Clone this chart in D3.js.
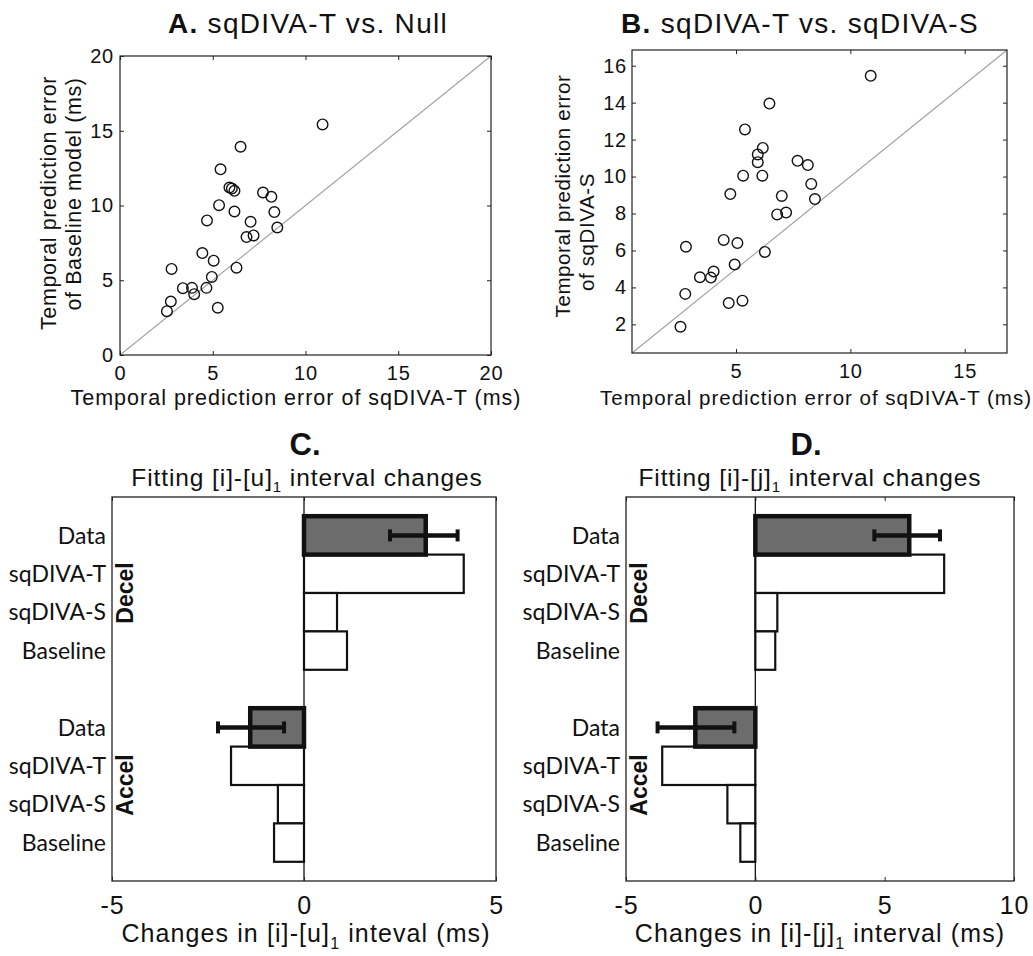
<!DOCTYPE html>
<html><head><meta charset="utf-8">
<script src="https://cdn.jsdelivr.net/npm/d3@7"></script>
<style>
body{margin:0;background:#fff}
svg text{font-family:"Liberation Sans",Arial,Helvetica,sans-serif;fill:#111}
.cat{font-family:Lato,"Open Sans",sans-serif}
</style>
</head><body>
<svg id="chart" width="1033" height="956"></svg>
<script>
// ---------- DATA ----------
// Panel A: sqDIVA-T error (x) vs Baseline model error (y), ms
const aX = [10.92, 6.50, 5.42, 5.90, 6.03, 6.17, 7.71, 8.16, 5.34, 6.17, 8.32, 4.69, 7.04, 8.48, 6.82, 7.20, 4.44, 5.05, 2.78, 6.28, 4.95, 3.39, 3.88, 4.66, 4.00, 2.74, 2.53, 5.27];
const aY = [15.42, 13.93, 12.42, 11.20, 11.13, 10.98, 10.87, 10.58, 10.02, 9.60, 9.56, 9.00, 8.91, 8.53, 7.89, 8.00, 6.82, 6.31, 5.76, 5.84, 5.22, 4.47, 4.49, 4.49, 4.07, 3.58, 2.93, 3.16];
// Panel B: sqDIVA-T error (x) vs sqDIVA-S error (y), ms
const bX = [10.89, 6.46, 5.39, 6.17, 5.95, 5.95, 7.69, 8.14, 5.31, 6.15, 8.29, 4.75, 7.00, 8.45, 6.80, 7.19, 4.46, 5.06, 2.81, 6.26, 4.94, 3.42, 3.90, 4.02, 2.78, 4.68, 5.28, 2.57];
const bY = [15.45, 13.95, 12.55, 11.55, 11.2, 10.78, 10.85, 10.62, 10.05, 10.05, 9.6, 9.05, 8.95, 8.78, 7.95, 8.05, 6.57, 6.4, 6.2, 5.92, 5.24, 4.55, 4.53, 4.86, 3.65, 3.15, 3.28, 1.87];
const aTicks = [0, 5, 10, 15, 20];
const bXTicks = [5, 10, 15];
const bYTicks = [2, 4, 6, 8, 10, 12, 14, 16];

// Panels C & D: horizontal bars
const categories = ["Data", "sqDIVA-T", "sqDIVA-S", "Baseline"];
const groups = ["Decel", "Accel"];
const cDecel = [3.17, 4.16, 0.86, 1.12];
const cAccel = [-1.40, -1.90, -0.68, -0.78];
const cErrLo = [2.24, -2.24];   // Data error bar low (Decel, Accel)
const cErrHi = [4.00, -0.52];
const dDecel = [5.95, 7.30, 0.85, 0.77];
const dAccel = [-2.32, -3.60, -1.08, -0.58];
const dErrLo = [4.60, -3.78];
const dErrHi = [7.14, -0.81];
const cTicks = [-5, 0, 5];
const dTicks = [-5, 0, 5, 10];

// ---------- DRAW ----------
const svg = d3.select("#chart");
const fmt = d => String(d);

function scatter(o) {
  const g = svg.append("g");
  const x = d3.scaleLinear().domain(o.xd).range([o.l, o.r]);
  const y = d3.scaleLinear().domain(o.yd).range([o.b, o.t]);
  const lo = Math.max(o.xd[0], o.yd[0]), hi = Math.min(o.xd[1], o.yd[1]);
  g.append("line").attr("x1", x(lo)).attr("y1", y(lo)).attr("x2", x(hi)).attr("y2", y(hi))
    .attr("stroke", "#a0a0a0").attr("stroke-width", 1.1);
  g.selectAll("circle.pt").data(o.xs.map((v, i) => [v, o.ys[i]])).join("circle")
    .attr("class", "pt").attr("cx", d => x(d[0])).attr("cy", d => y(d[1])).attr("r", 5.3)
    .attr("fill", "none").attr("stroke", "#111").attr("stroke-width", 1.4);
  const fs = o.tickFont;
  g.append("g").attr("transform", `translate(0,${o.b})`)
    .call(d3.axisBottom(x).tickValues(o.xt).tickSize(-4).tickPadding(o.xpad).tickFormat(fmt));
  g.append("g").attr("transform", `translate(${o.l},0)`)
    .call(d3.axisLeft(y).tickValues(o.yt).tickSize(-4).tickPadding(o.ypad).tickFormat(fmt));
  g.append("g").attr("transform", `translate(0,${o.t})`)
    .call(d3.axisTop(x).tickValues(o.xt).tickSize(-4).tickFormat(""));
  g.append("g").attr("transform", `translate(${o.r},0)`)
    .call(d3.axisRight(y).tickValues(o.yt).tickSize(-4).tickFormat(""));
  g.selectAll(".domain").remove();
  g.selectAll(".tick line").attr("stroke", "#222");
  g.selectAll(".tick text").attr("font-size", fs).attr("fill", "#111")
    .attr("font-family", '"Liberation Sans",Arial,sans-serif').attr("letter-spacing", 0.8);
  g.append("rect").attr("x", o.l).attr("y", o.t).attr("width", o.r - o.l).attr("height", o.b - o.t)
    .attr("fill", "none").attr("stroke", "#222").attr("stroke-width", 1.2);
  // title
  const t = g.append("text").attr("x", o.titleX).attr("y", 33).attr("text-anchor", "middle")
    .attr("font-size", 28).attr("letter-spacing", 1.3);
  t.append("tspan").attr("font-weight", "bold").text(o.letter);
  t.append("tspan").text(" " + o.title);
  // x label
  g.append("text").attr("x", o.xlX).attr("y", 405).attr("text-anchor", "middle")
    .attr("font-size", o.labFont).attr("letter-spacing", 1).text(o.xlabel);
  // y label lines
  o.ylab.forEach(l => {
    g.append("text").attr("transform", `translate(${l.x},${l.y}) rotate(-90)`)
      .attr("text-anchor", "middle").attr("font-size", o.labFont).attr("letter-spacing", 0.6).text(l.text);
  });
}

scatter({
  l: 120, r: 491, t: 56, b: 355, xd: [0, 20], yd: [0, 20], xs: aX, ys: aY,
  xt: aTicks, yt: aTicks, xpad: 11, ypad: 6, tickFont: 20,
  letter: "A.", title: "sqDIVA-T vs. Null", titleX: 308, labFont: 21.5,
  xlabel: "Temporal prediction error of sqDIVA-T (ms)", xlX: 296,
  ylab: [{x: 56, y: 203, text: "Temporal prediction error"}, {x: 81, y: 194, text: "of Baseline model (ms)"}]
});
scatter({
  l: 632, r: 1007, t: 50, b: 353, xd: [0.45, 16.85], yd: [0.45, 16.85], xs: bX, ys: bY,
  xt: bXTicks, yt: bYTicks, xpad: 11, ypad: 5, tickFont: 20,
  letter: "B.", title: "sqDIVA-T vs. sqDIVA-S", titleX: 800, labFont: 20.5,
  xlabel: "Temporal prediction error of sqDIVA-T (ms)", xlX: 816,
  ylab: [{x: 570, y: 196, text: "Temporal prediction error"}, {x: 594, y: 232, text: "of sqDIVA-S"}]
});

function bars(o) {
  const g = svg.append("g");
  const x = d3.scaleLinear().domain(o.xd).range([o.l, o.r]);
  const y = d3.scaleLinear().domain([0, 10]).range([o.t, o.b]);
  const rows = [];
  groups.forEach((grp, gi) => categories.forEach((c, i) => {
    rows.push({grp, c, i, gi, v: gi === 0 ? o.dec[i] : o.acc[i], slot: gi * 5 + i + 1});
  }));
  const bh = y(1) - y(0);
  const order = rows.filter(r => r.i !== 0).concat(rows.filter(r => r.i === 0));
  g.selectAll("rect.bar").data(order).join("rect").attr("class", "bar")
    .attr("x", d => x(Math.min(0, d.v))).attr("width", d => Math.abs(x(d.v) - x(0)))
    .attr("y", d => y(d.slot) - bh / 2).attr("height", bh)
    .attr("fill", d => d.i === 0 ? "#6c6c6c" : "#fff")
    .attr("stroke", "#111").attr("stroke-width", d => d.i === 0 ? 4.5 : 2.2);
  // zero line
  g.append("line").attr("x1", x(0)).attr("x2", x(0)).attr("y1", o.t).attr("y2", o.b)
    .attr("stroke", "#111").attr("stroke-width", 1.3);
  // error bars
  groups.forEach((grp, gi) => {
    const yy = y(gi * 5 + 1);
    g.append("line").attr("x1", x(o.lo[gi])).attr("x2", x(o.hi[gi])).attr("y1", yy).attr("y2", yy)
      .attr("stroke", "#111").attr("stroke-width", 4.5);
    [o.lo[gi], o.hi[gi]].forEach(v => g.append("line").attr("x1", x(v)).attr("x2", x(v))
      .attr("y1", yy - 6).attr("y2", yy + 6).attr("stroke", "#111").attr("stroke-width", 4));
  });
  // axes
  g.append("g").attr("transform", `translate(0,${o.b})`)
    .call(d3.axisBottom(x).tickValues(o.ticks).tickSize(-4).tickPadding(15).tickFormat(fmt));
  g.append("g").attr("transform", `translate(0,${o.t})`)
    .call(d3.axisTop(x).tickValues(o.ticks).tickSize(-4).tickFormat(""));
  g.selectAll(".domain").remove();
  g.selectAll(".tick line").attr("stroke", "#222");
  g.selectAll(".tick text").attr("font-size", 25).attr("fill", "#111")
    .attr("font-family", '"Liberation Sans",Arial,sans-serif').attr("letter-spacing", 0.8);
  g.append("rect").attr("x", o.l).attr("y", o.t).attr("width", o.r - o.l).attr("height", o.b - o.t)
    .attr("fill", "none").attr("stroke", "#222").attr("stroke-width", 1.3);
  // category labels
  g.selectAll("text.cat").data(rows).join("text").attr("class", "cat")
    .attr("x", o.l - 6).attr("y", d => y(d.slot)).attr("dy", "0.36em").attr("text-anchor", "end")
    .attr("font-size", 23).text(d => d.c);
  // group labels
  groups.forEach((grp, gi) => {
    g.append("text").attr("transform", `translate(${o.l + 21},${y(gi * 5 + 2.5)}) rotate(-90)`)
      .attr("text-anchor", "middle").attr("font-weight", "bold").attr("font-size", 23).text(grp);
  });
  // titles
  g.append("text").attr("x", o.letterX).attr("y", 455).attr("text-anchor", "middle")
    .attr("font-weight", "bold").attr("font-size", 31).text(o.letter);
  const st = g.append("text").attr("x", o.subX).attr("y", 486).attr("text-anchor", "middle")
    .attr("font-size", 24.5).attr("letter-spacing", 0.9);
  st.append("tspan").text(o.subA);
  st.append("tspan").attr("font-size", 15).attr("dy", 6).attr("fill", "#111").text("1");
  st.append("tspan").attr("dy", -6).text(" interval changes");
  const xl = g.append("text").attr("x", o.xlX).attr("y", 942).attr("text-anchor", "middle")
    .attr("font-size", 25).attr("letter-spacing", 1.1);
  xl.append("tspan").text("Changes in " + o.subA.replace("Fitting ", ""));
  xl.append("tspan").attr("font-size", 16).attr("dy", 7).attr("fill", "#111").text("1");
  xl.append("tspan").attr("dy", -7).text(" " + o.xlTail);
}

bars({
  l: 112, r: 496, t: 497, b: 881, xd: [-5, 5], ticks: cTicks, dec: cDecel, acc: cAccel,
  lo: cErrLo, hi: cErrHi, letter: "C.", letterX: 305, subA: "Fitting [i]-[u]", subX: 307,
  xlX: 306, xlTail: "inteval (ms)"
});
bars({
  l: 626, r: 1014, t: 497, b: 881, xd: [-5, 10], ticks: dTicks, dec: dDecel, acc: dAccel,
  lo: dErrLo, hi: dErrHi, letter: "D.", letterX: 806, subA: "Fitting [i]-[j]", subX: 810,
  xlX: 820, xlTail: "interval (ms)"
});
</script>
</body></html>
